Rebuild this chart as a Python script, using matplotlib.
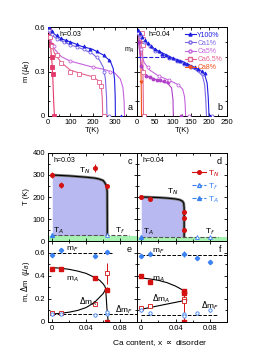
import matplotlib
matplotlib.use("Agg")
import matplotlib.pyplot as plt
from matplotlib.ticker import MultipleLocator

plt.rcParams['font.family'] = ['Liberation Sans', 'DejaVu Sans']
plt.rcParams['font.size'] = 5.5
plt.rcParams['axes.linewidth'] = 0.7

# ---- colours
c_y100 = '#1f1fe0'
c_ca1 = '#7a68e6'
c_ca5 = '#c563dd'
c_ca5b = '#b040c8'
c_ca65 = '#e4628e'
c_ca8 = '#f0521e'
c_ca8a = '#e23a6c'
c_red = '#d41010'
c_blue = '#3a82f2'

# ---- panel a, h=0.03  (T in K, m in mu_B)
a_y100_T = [3, 20, 40, 60, 80, 100, 130, 160, 190, 220, 250, 275, 330]
a_y100_m = [0.60, 0.57, 0.545, 0.525, 0.51, 0.50, 0.485, 0.47, 0.455, 0.44, 0.41, 0.375, 0.0]
a_y100_fitT = [0, 10, 30, 60, 100, 150, 200, 250, 280, 293, 299, 302, 303]
a_y100_fitm = [0.60, 0.58, 0.55, 0.52, 0.50, 0.47, 0.45, 0.41, 0.37, 0.32, 0.25, 0.13, 0.0]

a_ca1_T = [5, 20, 40, 70, 100, 130, 160, 190, 220, 250, 275]
a_ca1_m = [0.58, 0.55, 0.52, 0.50, 0.48, 0.465, 0.45, 0.43, 0.40, 0.30, 0.0]
a_ca1_fitT = [0, 10, 30, 60, 100, 150, 200, 230, 248, 258, 263, 265]
a_ca1_fitm = [0.59, 0.56, 0.53, 0.505, 0.48, 0.455, 0.42, 0.38, 0.33, 0.25, 0.13, 0.0]

a_ca5_T = [8, 25, 100, 200, 280]
a_ca5_m = [0.57, 0.47, 0.37, 0.33, 0.30]
a_ca5_fitT = [0, 10, 30, 60, 100, 150, 200, 250, 300, 325, 337, 342, 344]
a_ca5_fitm = [0.58, 0.52, 0.45, 0.40, 0.37, 0.35, 0.33, 0.315, 0.29, 0.25, 0.19, 0.10, 0.0]

a_ca65_T = [5, 10, 20, 40, 60, 100, 140, 200, 230, 240, 250]
a_ca65_m = [0.58, 0.53, 0.47, 0.41, 0.36, 0.30, 0.285, 0.265, 0.23, 0.20, 0.0]
a_ca65_fitT = [0, 5, 15, 30, 60, 100, 150, 200, 230, 240, 244, 246]
a_ca65_fitm = [0.60, 0.55, 0.48, 0.42, 0.36, 0.31, 0.285, 0.265, 0.235, 0.19, 0.12, 0.0]

a_ca8_T = [8, 14, 18, 20, 23, 28]
a_ca8_m = [0.54, 0.48, 0.40, 0.33, 0.28, 0.0]
a_ca8_fitT = [0, 6, 12, 18, 22, 26, 29]
a_ca8_fitm = [0.56, 0.52, 0.46, 0.36, 0.24, 0.08, 0.0]

# ---- panel b, h=0.04
b_y100_T = [2, 8, 15, 22, 30, 40, 50, 60, 70, 80, 90, 100, 110, 120, 130, 140, 150, 160, 170, 180, 188, 203]
b_y100_m = [0.58, 0.56, 0.53, 0.51, 0.49, 0.47, 0.45, 0.435, 0.42, 0.41, 0.40, 0.39, 0.38, 0.37, 0.36, 0.35, 0.34, 0.33, 0.32, 0.305, 0.29, 0.0]
b_y100_fitT = [0, 10, 25, 50, 75, 100, 125, 150, 175, 188, 195, 198, 200]
b_y100_fitm = [0.58, 0.55, 0.50, 0.45, 0.42, 0.39, 0.37, 0.34, 0.31, 0.28, 0.22, 0.12, 0.0]

b_ca1_T = [2, 10, 20, 35, 50, 70, 90, 110, 130, 150, 170, 185, 208]
b_ca1_m = [0.56, 0.53, 0.50, 0.47, 0.44, 0.41, 0.39, 0.37, 0.35, 0.33, 0.31, 0.28, 0.0]
b_ca1_fitT = [0, 10, 25, 50, 75, 100, 125, 150, 170, 182, 188, 191, 193]
b_ca1_fitm = [0.56, 0.53, 0.49, 0.44, 0.41, 0.38, 0.36, 0.33, 0.30, 0.27, 0.21, 0.11, 0.0]

b_ca5_T = [5, 12, 30, 60, 90, 115, 145]
b_ca5_m = [0.55, 0.45, 0.33, 0.27, 0.24, 0.21, 0.0]
b_ca5_fitT = [0, 5, 12, 20, 35, 60, 90, 115, 127, 132, 134, 135]
b_ca5_fitm = [0.57, 0.52, 0.42, 0.36, 0.31, 0.27, 0.24, 0.21, 0.18, 0.13, 0.07, 0.0]

b_ca5b_T = [5, 12, 25, 35, 45, 55, 65, 75, 85, 122]
b_ca5b_m = [0.50, 0.34, 0.27, 0.26, 0.25, 0.245, 0.24, 0.235, 0.23, 0.0]
b_ca5b_fitT = [0, 5, 12, 20, 35, 60, 85, 96, 100, 101]
b_ca5b_fitm = [0.55, 0.48, 0.34, 0.29, 0.26, 0.24, 0.22, 0.19, 0.11, 0.0]

b_ca65_T = [15, 16, 17, 18, 19]
b_ca65_m = [0.56, 0.52, 0.48, 0.30, 0.0]
b_ca65_fitT = [0, 8, 14, 16, 17, 18]
b_ca65_fitm = [0.57, 0.55, 0.50, 0.40, 0.20, 0.0]

b_ca8_T = [3, 8, 12]
b_ca8_m = [0.55, 0.50, 0.23]
b_ca8_fitT = [0, 5, 9, 11, 12, 12.5]
b_ca8_fitm = [0.56, 0.53, 0.45, 0.32, 0.15, 0.0]

b_mA_T = [0, 80]
b_mA_m = [0.40, 0.40]

legend_labels = ['Y100%', 'Ca1%', 'Ca5%', 'Ca6.5%', 'Ca8%']

# ---- panel c/d: transition temperatures vs Ca content
c_TN_x = [0, 0.01, 0.05, 0.065]
c_TN = [300, 255, 330, 248]
c_TN_err = [15, 15, 18, 10]
c_line_x = [0, 0.01, 0.02, 0.03, 0.04, 0.05, 0.055, 0.06, 0.062, 0.064, 0.0648, 0.065]
c_line_T = [300, 298, 296, 293, 290, 286, 282, 275, 265, 250, 225, 25]
c_TA_x = [0]
c_TA = [27]
c_Tf_x = [0.065]
c_Tf = [27]
c_dash = 27
c_green = 25

d_TN_x = [0, 0.01, 0.05, 0.05, 0.05]
d_TN = [200, 193, 133, 103, 48]
d_line_x = [0, 0.01, 0.02, 0.03, 0.04, 0.045, 0.048, 0.0495, 0.05, 0.05]
d_line_T = [200, 199, 197.5, 195, 191, 187, 181, 172, 150, 20]
d_TA_x = [0]
d_TA = [16]
d_Tf_x = [0.065, 0.08]
d_Tf = [18, 18]
d_dash = 20
d_green = 20

# ---- panel e/f: moments vs Ca content
e_mF_x = [0, 0.01, 0.05, 0.065]
e_mF = [0.58, 0.62, 0.57, 0.605]
e_mF_err = [0.015, 0.02, 0.015, 0.02]
e_mA_x = [0, 0.01, 0.05, 0.065, 0.065]
e_mA = [0.455, 0.455, 0.38, 0.28, 0.0]
e_mA_err = [0.01, 0.01, 0.015, 0.02, 0.0]
e_dmA_x = [0, 0.01, 0.05, 0.065]
e_dmA = [0.075, 0.075, 0.155, 0.42]
e_dmA_err = [0.01, 0.01, 0.01, 0.09]
e_dmF_x = [0, 0.01, 0.05, 0.065, 0.065]
e_dmF = [0.065, 0.07, 0.06, 0.07, 0.085]
e_dmF_err = [0.01, 0.01, 0.008, 0.01, 0.01]
e_fit_x = [0, 0.01, 0.02, 0.03, 0.04, 0.05, 0.056, 0.06, 0.062, 0.063, 0.062, 0.06, 0.056, 0.05, 0.04, 0.03, 0.02, 0.01, 0]
e_fit_m = [0.47, 0.465, 0.455, 0.44, 0.42, 0.385, 0.36, 0.33, 0.31, 0.29, 0.27, 0.245, 0.215, 0.17, 0.125, 0.10, 0.085, 0.075, 0.07]
e_drop_x = [0.063, 0.0645, 0.066]
e_drop_m = [0.29, 0.12, 0.0]
e_mF_dash = 0.597
e_dmF_dash = 0.065

f_mF_x = [0, 0.01, 0.05, 0.065, 0.08]
f_mF = [0.57, 0.59, 0.585, 0.55, 0.52]
f_mF_err = [0.02, 0.02, 0.025, 0.01, 0.02]
f_mA_x = [0, 0.01, 0.05, 0.05, 0.05]
f_mA = [0.40, 0.35, 0.27, 0.25, 0.0]
f_mA_err = [0.01, 0.02, 0.015, 0.015, 0.0]
f_dmA_x = [0, 0.01, 0.05, 0.05]
f_dmA = [0.12, 0.14, 0.20, 0.18]
f_dmA_err = [0.01, 0.01, 0.01, 0.01]
f_dmF_x = [0, 0.01, 0.05, 0.05, 0.065, 0.08]
f_dmF = [0.10, 0.08, 0.07, 0.05, 0.08, 0.10]
f_dmF_err = [0.01, 0.01, 0.01, 0.01, 0.008, 0.01]
f_mA_fit_x = [0, 0.01, 0.02, 0.03, 0.04, 0.05, 0.053]
f_mA_fit = [0.38, 0.372, 0.36, 0.34, 0.31, 0.27, 0.25]
f_dmA_fit_x = [0, 0.01, 0.02, 0.03, 0.04, 0.05, 0.053]
f_dmA_fit = [0.11, 0.125, 0.14, 0.155, 0.17, 0.185, 0.19]
f_mF_dash = 0.58
f_dmF_dash = 0.06

W, H = 269, 354
fig = plt.figure(figsize=(W / 100, H / 100), dpi=100)


def rect(x0, y0, x1, y1):
    return [x0 / W, 1 - y1 / H, (x1 - x0) / W, (y1 - y0) / H]


ax_a = fig.add_axes(rect(48, 27, 137, 116))
ax_b = fig.add_axes(rect(137, 27, 227, 116))
ax_c = fig.add_axes(rect(48, 153, 137, 241))
ax_d = fig.add_axes(rect(137, 153, 227, 241))
ax_e = fig.add_axes(rect(48, 241, 137, 322))
ax_f = fig.add_axes(rect(137, 241, 227, 322))

for ax in [ax_a, ax_b, ax_c, ax_d, ax_e, ax_f]:
    ax.tick_params(which='both', direction='in', top=True, right=True, width=0.6, pad=2, labelsize=5.5)
    ax.tick_params(which='major', length=2.5)
    ax.tick_params(which='minor', length=1.5)

ms = 2.2
lw = 0.8


def series(ax, T, m, fT, fm, col, mk, fill):
    ax.plot(fT, fm, '-', color=col, lw=lw, zorder=2)
    ax.plot(T, m, linestyle='none', marker=mk, ms=ms, mec=col, mew=0.6,
            mfc=col if fill else 'white', zorder=3)


# panel a
series(ax_a, a_ca8_T, a_ca8_m, a_ca8_fitT, a_ca8_fitm, c_ca8a, 's', True)
series(ax_a, a_ca65_T, a_ca65_m, a_ca65_fitT, a_ca65_fitm, c_ca65, 's', False)
series(ax_a, a_ca5_T, a_ca5_m, a_ca5_fitT, a_ca5_fitm, c_ca5, 'o', False)
series(ax_a, a_ca1_T, a_ca1_m, a_ca1_fitT, a_ca1_fitm, c_ca1, 'o', False)
series(ax_a, a_y100_T, a_y100_m, a_y100_fitT, a_y100_fitm, c_y100, '^', True)
ax_a.set_xlim(0, 400)
ax_a.set_ylim(0, 0.6)
ax_a.set_xticks([0, 100, 200, 300])
ax_a.set_yticks([0, 0.3, 0.6])
ax_a.set_yticklabels(['0', '0.3', '0.6'])
ax_a.yaxis.set_minor_locator(MultipleLocator(0.1))
ax_a.xaxis.set_minor_locator(MultipleLocator(50))
ax_a.set_xlabel('T(K)', labelpad=1)
ax_a.set_ylabel(r'm ($\mu_B$)', labelpad=2)
ax_a.text(0.13, 0.95, 'h=0.03', transform=ax_a.transAxes, fontsize=5, va='top')
ax_a.text(0.95, 0.05, 'a', transform=ax_a.transAxes, fontsize=6.5, ha='right', va='bottom')

# panel b
series(ax_b, b_ca8_T, b_ca8_m, b_ca8_fitT, b_ca8_fitm, c_ca8, 'v', True)
series(ax_b, b_ca65_T, b_ca65_m, b_ca65_fitT, b_ca65_fitm, c_ca65, 's', False)
series(ax_b, b_ca5b_T, b_ca5b_m, b_ca5b_fitT, b_ca5b_fitm, c_ca5b, 'o', True)
series(ax_b, b_ca5_T, b_ca5_m, b_ca5_fitT, b_ca5_fitm, c_ca5, 'o', False)
series(ax_b, b_ca1_T, b_ca1_m, b_ca1_fitT, b_ca1_fitm, c_ca1, 'o', False)
series(ax_b, b_y100_T, b_y100_m, b_y100_fitT, b_y100_fitm, c_y100, '^', True)
ax_b.plot(b_mA_T, b_mA_m, '--', color=c_y100, lw=0.8)
ax_b.text(-0.02, 0.41, r'm$_A$', fontsize=5, ha='right', va='bottom',
          transform=ax_b.get_yaxis_transform())
for lab, col, mk, fill in zip(legend_labels, [c_y100, c_ca1, c_ca5, c_ca65, c_ca8],
                              ['^', 'o', 'o', 's', 'v'], [True, False, False, False, True]):
    ax_b.plot([], [], '-', color=col, lw=lw, marker=mk, ms=ms, mec=col,
              mfc=col if fill else 'white', label=lab)
ax_b.legend(loc='upper right', fontsize=5, frameon=False, handlelength=1.6,
            handletextpad=0.2, labelspacing=0.15, borderaxespad=0.3, labelcolor='linecolor')
ax_b.set_xlim(0, 250)
ax_b.set_ylim(0, 0.6)
ax_b.set_xticks([0, 50, 100, 150, 200, 250])
ax_b.xaxis.set_minor_locator(MultipleLocator(25))
ax_b.yaxis.set_minor_locator(MultipleLocator(0.1))
ax_b.set_yticks([0, 0.3, 0.6])
ax_b.set_yticklabels([])
ax_b.set_xlabel('T(K)', labelpad=1)
ax_b.text(0.13, 0.95, 'h=0.04', transform=ax_b.transAxes, fontsize=5, va='top')
ax_b.text(0.95, 0.05, 'b', transform=ax_b.transAxes, fontsize=6.5, ha='right', va='bottom')

# panels c and d
for ax, lx, lT, green, dash in [(ax_c, c_line_x, c_line_T, c_green, c_dash),
                                (ax_d, d_line_x, d_line_T, d_green, d_dash)]:
    ax.axhspan(0, green, color='#a6f2b0', lw=0, zorder=0)
    ax.fill_between(lx, green, lT, color='#b9b9f2', lw=0, zorder=0)
    ax.plot(lx, lT, '-', color='#7a7a7a', lw=2.0, zorder=1)
    ax.plot(lx, lT, '-', color='black', lw=0.8, zorder=2)
    ax.plot([0, 0.09], [dash, dash], '--', color='#555555', lw=0.8, zorder=2)
    ax.set_xlim(-0.005, 0.1)
    ax.set_ylim(0, 400)
    ax.set_xticks([0, 0.04, 0.08])
    ax.xaxis.set_minor_locator(MultipleLocator(0.02))
    ax.set_yticks([0, 100, 200, 300, 400])
    ax.yaxis.set_minor_locator(MultipleLocator(50))
    ax.set_xticklabels([])

ax_c.errorbar(c_TN_x, c_TN, yerr=c_TN_err, fmt='o', color=c_red, ms=2.6, lw=0.7, capsize=0, zorder=4)
ax_c.plot(c_TA_x, c_TA, '^', color=c_blue, ms=2.8, zorder=4)
ax_c.plot(c_Tf_x, c_Tf, '^', mfc='white', mec=c_blue, mew=0.6, ms=2.8, zorder=4)
ax_c.set_ylabel('T (K)', labelpad=2)
ax_c.text(0.06, 0.95, 'h=0.03', transform=ax_c.transAxes, fontsize=5, va='top')
ax_c.text(0.94, 0.95, 'c', transform=ax_c.transAxes, fontsize=6.5, ha='right', va='top')
ax_c.text(0.032, 312, r'T$_N$', fontsize=6)
ax_c.text(0.001, 38, r'T$_A$', fontsize=6)
ax_c.text(0.074, 38, r'T$_f$', fontsize=6)

ax_d.plot(d_TN_x, d_TN, 'o', color=c_red, ms=2.6, zorder=4)
ax_d.plot(d_TA_x, d_TA, '^', color=c_blue, ms=2.8, zorder=4)
ax_d.plot(d_Tf_x, d_Tf, '^', mfc='white', mec=c_blue, mew=0.6, ms=2.8, zorder=4)
ax_d.set_yticklabels([])
ax_d.text(0.06, 0.95, 'h=0.04', transform=ax_d.transAxes, fontsize=5, va='top')
ax_d.text(0.94, 0.95, 'd', transform=ax_d.transAxes, fontsize=6.5, ha='right', va='top')
ax_d.text(0.03, 215, r'T$_N$', fontsize=6)
ax_d.text(0.002, 32, r'T$_A$', fontsize=6)
ax_d.text(0.074, 32, r'T$_f$', fontsize=6)
ax_d.plot([], [], '-', marker='o', color=c_red, ms=2.6, lw=0.8, label=r'T$_N$')
ax_d.plot([], [], '--', marker='^', color=c_blue, mfc='white', ms=2.8, lw=0.8, label=r'T$_f$')
ax_d.plot([], [], '--', marker='^', color=c_blue, ms=2.8, lw=0.8, label=r'T$_A$')
ax_d.legend(loc='center right', bbox_to_anchor=(1.0, 0.62), fontsize=6, frameon=False,
            handlelength=1.6, handletextpad=0.3, labelspacing=0.3, labelcolor='linecolor')

# panels e and f
for ax in [ax_e, ax_f]:
    ax.set_xlim(-0.005, 0.1)
    ax.set_ylim(0, 0.7)
    ax.set_xticks([0, 0.04, 0.08])
    ax.set_xticklabels(['0', '0.04', '0.08'])
    ax.xaxis.set_minor_locator(MultipleLocator(0.02))
    ax.set_yticks([0, 0.2, 0.4, 0.6])
    ax.yaxis.set_minor_locator(MultipleLocator(0.1))

ax_e.set_yticklabels(['0', '0.2', '0.4', '0.6'])
ax_f.set_yticklabels([])

ax_e.plot([0, 0.07], [e_mF_dash, e_mF_dash], '--', color='black', lw=0.7)
ax_e.plot([0, 0.1], [e_dmF_dash, e_dmF_dash], '--', color='black', lw=0.7)
ax_e.plot(e_fit_x, e_fit_m, '-', color='black', lw=0.8)
ax_e.plot(e_drop_x, e_drop_m, '-', color='black', lw=0.8)
ax_e.errorbar(e_mF_x, e_mF, yerr=e_mF_err, fmt='D', color=c_blue, ms=2.2, lw=0.7, capsize=0)
ax_e.errorbar(e_mA_x, e_mA, yerr=e_mA_err, fmt='s', color=c_red, ms=2.4, lw=0.7, capsize=0)
ax_e.errorbar(e_dmA_x, e_dmA, yerr=e_dmA_err, fmt='s', color=c_red, mfc='white', mew=0.6,
              ms=2.6, lw=0.7, capsize=0)
ax_e.errorbar(e_dmF_x, e_dmF, yerr=e_dmF_err, fmt='o', color=c_blue, mfc='white', mew=0.6,
              ms=2.4, lw=0.7, capsize=0)
ax_e.set_ylabel(r'm, $\Delta$m  ($\mu_B$)', labelpad=2)
ax_e.text(0.94, 0.95, 'e', transform=ax_e.transAxes, fontsize=6.5, ha='right', va='top')
ax_e.text(0.016, 0.62, r'm$_F$', fontsize=6)
ax_e.text(0.016, 0.36, r'm$_A$', fontsize=6)
ax_e.text(0.031, 0.155, r'$\Delta$m$_A$', fontsize=6)
ax_e.text(0.074, 0.085, r'$\Delta$m$_F$', fontsize=6)

ax_f.plot([0, 0.1], [f_mF_dash, f_mF_dash], '--', color='black', lw=0.7)
ax_f.plot([0, 0.09], [f_dmF_dash, f_dmF_dash], '--', color='black', lw=0.7)
ax_f.plot(f_mA_fit_x, f_mA_fit, '-', color='black', lw=0.8)
ax_f.plot(f_dmA_fit_x, f_dmA_fit, '-', color='black', lw=0.8)
ax_f.plot([0.05, 0.05], [0, 0.27], '-', color=c_red, lw=0.7)
ax_f.errorbar(f_mF_x, f_mF, yerr=f_mF_err, fmt='D', color=c_blue, ms=2.2, lw=0.7, capsize=0)
ax_f.errorbar(f_mA_x, f_mA, yerr=f_mA_err, fmt='s', color=c_red, ms=2.4, lw=0.7, capsize=0)
ax_f.errorbar(f_dmA_x, f_dmA, yerr=f_dmA_err, fmt='s', color=c_red, mfc='white', mew=0.6,
              ms=2.6, lw=0.7, capsize=0)
ax_f.errorbar(f_dmF_x, f_dmF, yerr=f_dmF_err, fmt='o', color=c_blue, mfc='white', mew=0.6,
              ms=2.4, lw=0.7, capsize=0)
ax_f.text(0.94, 0.95, 'f', transform=ax_f.transAxes, fontsize=6.5, ha='right', va='top')
ax_f.text(0.012, 0.6, r'm$_F$', fontsize=6)
ax_f.text(0.012, 0.36, r'm$_A$', fontsize=6)
ax_f.text(0.012, 0.18, r'$\Delta$m$_A$', fontsize=6)
ax_f.text(0.07, 0.12, r'$\Delta$m$_F$', fontsize=6)

fig.text(0.595, 1 - 343 / H, r'Ca content, x $\propto$ disorder', ha='center', va='center', fontsize=6)

fig.savefig('out.png', dpi=100)
